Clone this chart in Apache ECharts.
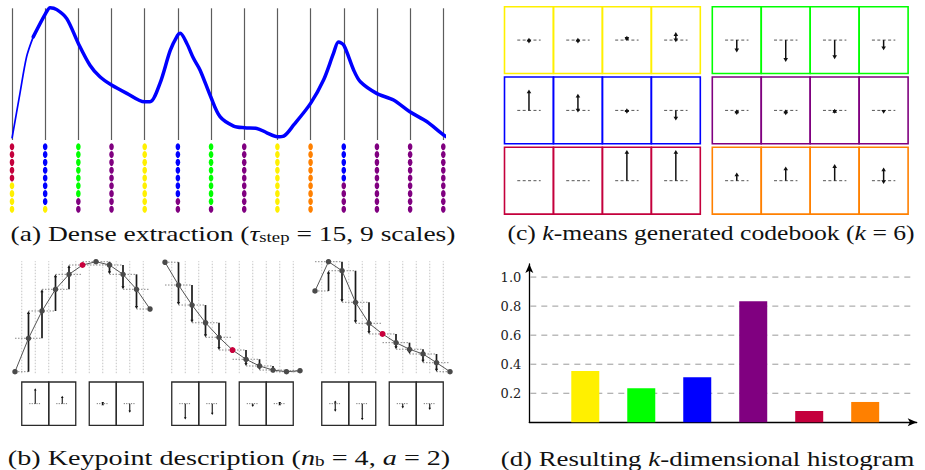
<!DOCTYPE html>
<html><head><meta charset="utf-8">
<script src="https://cdn.jsdelivr.net/npm/echarts@6/dist/echarts.min.js"></script>
<style>html,body{margin:0;padding:0;background:#fff}#c{width:925px;height:470px}</style>
</head><body><div id="c"></div>
<script>
// ================= DATA =================
// clusters (codebook words) in histogram order
const clusterNames  = ['yellow', 'green', 'blue', 'purple', 'crimson', 'orange'];
const clusterCodes  = ['Y', 'G', 'B', 'P', 'R', 'O'];
const clusterColors = ['#fff000', '#00ff00', '#0000ff', '#800080', '#c4003c', '#ff8000'];

// (a) dense extraction: signal curve (x in sample-line units, y normalised)
const curveX = [0, 0.24, 0.44, 0.64, 1.01, 1.15, 1.35, 1.65, 2.0, 2.35, 2.65, 3.0, 3.46, 3.99, 4.16, 4.46, 4.77, 4.99, 5.07, 5.27, 5.47, 5.67, 5.99, 6.27, 6.68, 7.01, 7.38, 7.68, 8.0, 8.19, 8.49, 9.0, 9.39, 9.69, 9.84, 10.0, 10.3, 10.5, 10.99, 11.5, 11.99, 12.51, 13.01, 13.31];
const curveY = [0.013, 0.354, 0.632, 0.783, 0.96, 1.005, 0.99, 0.922, 0.733, 0.568, 0.48, 0.417, 0.354, 0.29, 0.29, 0.43, 0.68, 0.795, 0.81, 0.733, 0.62, 0.53, 0.328, 0.177, 0.106, 0.093, 0.088, 0.055, 0.025, 0.03, 0.114, 0.278, 0.455, 0.657, 0.745, 0.72, 0.53, 0.442, 0.354, 0.303, 0.214, 0.139, 0.038, 0.0];
// cluster assigned at each of 14 sample positions for each of the 9 scales (top to bottom)
const scaleAssignments = ['RRRRRYYYY', 'BBBBBBBBY', 'GGGGGGGPP', 'PPPPPPPPP', 'YYYYYYYYY', 'BBBBBBBPP', 'GGGGGGGGP', 'PPPPPPPPP', 'YYYYYYYYY', 'OOOOOOOOO', 'BBBBBPPPP', 'PPPPPPPPP', 'PPPPPPPPP', 'PPPPPPPPP'];

// (b) keypoint description: three local signal windows (11 samples), keypoint at index 5
const keypointSignals = [
  [0, 0.304, 0.552, 0.749, 0.885, 0.97, 1.0, 0.97, 0.885, 0.749, 0.57],
  [0.995, 0.788, 0.606, 0.445, 0.313, 0.197, 0.113, 0.052, 0.015, 0, 0.009],
  [0.734, 1.0, 0.918, 0.631, 0.44, 0.343, 0.264, 0.204, 0.161, 0.082, 0]
];
const keypointIndex = 5;
// descriptor cells (each covers two samples) : [positive sum, negative sum]
const descriptorCellStart = [0.5, 2.5, 5.5, 7.5];
const keypointDescriptors = [
  [[0.71, 0], [0.36, 0], [0.03, 0.03], [0, 0.42]],
  [[0, 0.73], [0, 0.52], [0, 0.15], [0.03, 0.03]],
  [[0.15, 0.37], [0, 0.77], [0, 0.22], [0, 0.29]]
];

// (c) k-means codebook, k = 6 : 4 cells x [positive, negative]
const codebookWords = [
  [[0.08, 0.11], [0.08, 0.11], [0.14, 0.02], [0.26, 0.07]],  // yellow
  [[0, 0.40], [0, 0.71], [0, 0.62], [0, 0.33]],              // green
  [[0.68, 0], [0.54, 0.07], [0.07, 0.11], [0, 0.33]],        // blue
  [[0.03, 0.15], [0.03, 0.16], [0.05, 0.11], [0, 0.11]],     // purple
  [[0, 0], [0, 0], [1.0, 0], [1.0, 0]],                      // crimson
  [[0.27, 0], [0.46, 0], [0.54, 0], [0.43, 0.11]]            // orange
];

// (d) resulting histogram
const histValues = [0.354, 0.234, 0.31, 0.834, 0.078, 0.14];
const histTicks = [0.2, 0.4, 0.6, 0.8, 1.0];

// ================= HELPERS =================
const INK = '#111';
function arrow(x, yFrom, yTo, color, lw, hw, hl) {
  const dir = yTo < yFrom ? 1 : -1;
  return [
    {type: 'line', shape: {x1: x, y1: yFrom, x2: x, y2: yTo + dir * hl * 0.6}, style: {stroke: color, lineWidth: lw}},
    {type: 'polygon', shape: {points: [[x - hw, yTo + dir * hl], [x + hw, yTo + dir * hl], [x, yTo]]}, style: {fill: color}}
  ];
}
function hAxis(gridIndex, min, max, extra) {
  return Object.assign({type: 'value', gridIndex, min, max, show: false}, extra || {});
}

// ---------- grids ----------
const grids = [];
const xAxes = [], yAxes = [];
const series = [];
function addGrid(g) { grids.push(Object.assign({containLabel: false, outerBoundsMode: 'none'}, g)); return grids.length - 1; }

// (a) curve grid
const gA = addGrid({left: 12, top: 8.3, width: 431.3, height: 131.7});
xAxes.push({type: 'value', gridIndex: gA, min: 0, max: 13, interval: 1,
  axisLine: {show: false}, axisTick: {show: false}, axisLabel: {show: false},
  splitLine: {show: true, lineStyle: {color: '#5c5c5c', width: 1.2}}});
yAxes.push(hAxis(gA, 0, 1));
const curvePts = curveX.map((x, i) => [x, curveY[i]]);
series.push({type: 'line', name: 'signal (rise)', xAxisIndex: gA, yAxisIndex: gA, clip: false,
  data: curvePts.slice(0, 4), symbol: 'none', smooth: 0.3,
  lineStyle: {color: '#0000ff', width: 1.7}, z: 5, silent: true});
series.push({type: 'line', name: 'signal', xAxisIndex: gA, yAxisIndex: gA, clip: false,
  data: curvePts.slice(3), symbol: 'none', smooth: 0.3,
  lineStyle: {color: '#0000ff', width: 3.5, cap: 'round', join: 'round'}, z: 5, silent: true});

// (a) dots grid
const gAd = addGrid({left: 12, top: 146.7, width: 431.3, height: 62.6});
xAxes.push(hAxis(gAd, 0, 13));
yAxes.push(hAxis(gAd, 0, 8, {inverse: true}));
clusterCodes.forEach((code, k) => {
  const pts = [];
  scaleAssignments.forEach((col, ci) => {
    for (let r = 0; r < col.length; r++) if (col[r] === code) pts.push([ci, r]);
  });
  series.push({type: 'scatter', name: clusterNames[k], xAxisIndex: gAd, yAxisIndex: gAd,
    data: pts, symbol: 'circle', symbolSize: [4.6, 7], itemStyle: {color: clusterColors[k], opacity: 1}, silent: true});
});

// (c) codebook grid
const BLOCK_GAP = 0.245, ROW_FILL = 0.95, CB_UNIT = 0.437;
const gC = addGrid({left: 504.5, top: 6.7, width: 403.6, height: 210.9});
xAxes.push(hAxis(gC, 0, 8 + BLOCK_GAP));
yAxes.push(hAxis(gC, 0, 3, {inverse: true}));
const cbData = [];
codebookWords.forEach((w, k) => w.forEach((cell, c) => cbData.push([k, c])));
series.push({type: 'custom', name: 'codebook', xAxisIndex: gC, yAxisIndex: gC, data: cbData, silent: true,
  renderItem: function (params, api) {
    const k = api.value(0), c = api.value(1);
    const block = k % 2, row = Math.floor(k / 2);
    const x0 = block * (4 + BLOCK_GAP) + c;
    const p0 = api.coord([x0, row]), p1 = api.coord([x0 + 1, row + ROW_FILL]);
    const cx = (p0[0] + p1[0]) / 2;
    const rc = row + ROW_FILL / 2;
    const cy = api.coord([x0 + 0.5, rc])[1];
    const [up, dn] = codebookWords[k][c];
    const children = [
      {type: 'rect', shape: {x: p0[0], y: p0[1], width: p1[0] - p0[0], height: p1[1] - p0[1]},
        style: {fill: 'none', stroke: clusterColors[k], lineWidth: 1.6}},
      {type: 'line', shape: {x1: cx - 11.7, y1: cy, x2: cx + 11.7, y2: cy},
        style: {stroke: '#555', lineWidth: 1, lineDash: [3, 2.4]}}
    ];
    if (up > 0) children.push(...arrow(cx, cy, api.coord([x0 + 0.5, rc - up * CB_UNIT])[1], INK, 1.5, 2.3, 3.8));
    if (dn > 0) children.push(...arrow(cx, cy, api.coord([x0 + 0.5, rc + dn * CB_UNIT])[1], INK, 1.5, 2.3, 3.8));
    return {type: 'group', children};
  }});

// (b) keypoint windows + descriptors
keypointSignals.forEach((vals, k) => {
  const left = 15 + 150 * k;
  const gP = addGrid({left, top: 261.7, width: 135, height: 110});
  xAxes.push(hAxis(gP, 0, vals.length - 1));
  yAxes.push(hAxis(gP, 0, 1));
  const n = vals.length;
  series.push({type: 'custom', name: 'window' + (k + 1), xAxisIndex: gP, yAxisIndex: gP, silent: true,
    data: vals.map((v, i) => [i, v]), z: 2,
    renderItem: function (params, api) {
      const i = params.dataIndex;
      const ch = [];
      if (i < n - 1) {
        const a = api.coord([i + 0.5, 0]), b = api.coord([i + 0.5, 1]);
        ch.push({type: 'line', shape: {x1: a[0], y1: a[1] + 1.5, x2: b[0], y2: b[1] - 0.5},
          style: {stroke: '#c4c4c4', lineWidth: 1, lineDash: [1.5, 1.5]}});
      }
      const l = api.coord([Math.max(i - 1, 0), vals[i]]), r = api.coord([Math.min(i + 1, n - 1), vals[i]]);
      ch.push({type: 'line', shape: {x1: l[0], y1: l[1], x2: r[0], y2: r[1]},
        style: {stroke: '#8a8a8a', lineWidth: 1, lineDash: [1.5, 1.5]}});
      return {type: 'group', children: ch};
    }});
  series.push({type: 'custom', name: 'gradients' + (k + 1), xAxisIndex: gP, yAxisIndex: gP, silent: true,
    data: vals.map((v, i) => [i, v]), z: 3,
    renderItem: function (params, api) {
      const i = params.dataIndex;
      if (i === 0 || i === n - 1 || i === keypointIndex) return {type: 'group', children: []};
      const from = api.coord([i, vals[i - 1]]), to = api.coord([i, vals[i + 1]]);
      if (Math.abs(to[1] - from[1]) < 0.8) return {type: 'group', children: []};
      return {type: 'group', children: arrow(from[0], from[1], to[1], '#1a1a1a', 1.7, 1.6, 3)};
    }});
  series.push({type: 'line', name: 'samples' + (k + 1), xAxisIndex: gP, yAxisIndex: gP, silent: true, z: 4,
    data: vals.map((v, i) => i === keypointIndex
      ? {value: [i, v], itemStyle: {color: '#c8003c'}, symbolSize: 6}
      : {value: [i, v]}),
    symbol: 'circle', symbolSize: 5.5, showSymbol: true, clip: false,
    itemStyle: {color: '#4a4a4a'}, lineStyle: {color: '#555', width: 1}});

  const gD = addGrid({left, top: 382, width: 135, height: 43.3});
  xAxes.push(hAxis(gD, 0, n - 1));
  yAxes.push(hAxis(gD, -1, 1));
  series.push({type: 'custom', name: 'descriptor' + (k + 1), xAxisIndex: gD, yAxisIndex: gD, silent: true,
    data: keypointDescriptors[k].map((d, j) => [j, d[0], d[1]]),
    renderItem: function (params, api) {
      const j = params.dataIndex;
      const x0 = descriptorCellStart[j];
      const p0 = api.coord([x0, 1]), p1 = api.coord([x0 + 2, -1]);
      const cx = (p0[0] + p1[0]) / 2, cy = api.coord([x0 + 1, 0])[1];
      const up = api.value(1), dn = api.value(2);
      const ch = [
        {type: 'rect', shape: {x: p0[0], y: p0[1], width: p1[0] - p0[0], height: p1[1] - p0[1]},
          style: {fill: 'none', stroke: '#2a2a2a', lineWidth: 1.3}},
        {type: 'line', shape: {x1: cx - 6, y1: cy, x2: cx + 6, y2: cy},
          style: {stroke: '#777', lineWidth: 1, lineDash: [1.2, 1.2]}}
      ];
      if (up > 0) ch.push(...arrow(cx, cy, api.coord([x0 + 1, up])[1], INK, 1.1, 1.3, 2.2));
      if (dn > 0) ch.push(...arrow(cx, cy, api.coord([x0 + 1, -dn])[1], INK, 1.1, 1.3, 2.2));
      return {type: 'group', children: ch};
    }});
});

// (d) histogram
const gH = addGrid({left: 529.3, top: 264, width: 387.4, height: 158.3});
xAxes.push({type: 'value', gridIndex: gH, min: 0, max: 6.92,
  axisLine: {show: true, onZero: false, lineStyle: {color: '#000', width: 1.3}, symbol: ['none', 'arrow'], symbolSize: [6, 9]},
  axisTick: {show: false}, axisLabel: {show: false}, splitLine: {show: false}});
yAxes.push({type: 'value', gridIndex: gH, min: 0, max: 1.09, interval: 0.2,
  axisLine: {show: true, lineStyle: {color: '#000', width: 1.3}, symbol: ['none', 'arrow'], symbolSize: [6, 9]},
  axisTick: {show: false}, splitLine: {show: false},
  axisLabel: {show: true, margin: 8, color: '#222', fontFamily: 'DejaVu Serif', fontSize: 13,
    formatter: v => (histTicks.some(t => Math.abs(t - v) < 1e-6) ? v.toFixed(1) : '')}});
series.push({type: 'custom', name: 'gridlines', xAxisIndex: gH, yAxisIndex: gH, silent: true, z: 1,
  data: histTicks.map(t => [t]),
  renderItem: function (params, api) {
    const v = api.value(0);
    const a = api.coord([0, v]), b = api.coord([6.85, v]);
    return {type: 'line', shape: {x1: a[0] + 1, y1: a[1], x2: b[0], y2: b[1]},
      style: {stroke: '#9a9a9a', lineWidth: 1, lineDash: [6, 5]}};
  }});
series.push({type: 'bar', name: 'histogram', xAxisIndex: gH, yAxisIndex: gH, barWidth: 28, z: 3, silent: true,
  data: histValues.map((v, i) => ({value: [i + 1, v], itemStyle: {color: clusterColors[i]}}))});

// ---------- captions ----------
const FONT = 'Liberation Serif';
const capRich = {
  it: {fontFamily: FONT, fontSize: 22, fontStyle: 'italic', fill: '#111'},
  sub: {fontFamily: FONT, fontSize: 15, fill: '#111', verticalAlign: 'bottom', lineHeight: 10}
};
function caption(text, x, y, sx) {
  return {type: 'text', x, y, scaleX: sx, silent: true,
    style: {text, fontFamily: FONT, fontSize: 22, fill: '#111', lineHeight: 23,
      textAlign: 'center', align: 'center', textVerticalAlign: 'middle', verticalAlign: 'middle', rich: capRich}};
}
const graphics = [
  caption('(a) Dense extraction ({it|τ}{sub|step} = 15, 9 scales)', 233, 233, 1.25),
  caption('(c) {it|k}-means generated codebook ({it|k} = 6)', 711, 233, 1.165),
  caption('(b) Keypoint description ({it|n}{sub|b} = 4, {it|a} = 2)', 229, 457, 1.28),
  caption('(d) Resulting {it|k}-dimensional histogram', 707.5, 458, 1.22)
];

const chart = echarts.init(document.getElementById('c'), null, {renderer: 'svg', width: 925, height: 470});
chart.setOption({
  animation: false,
  backgroundColor: '#fff',
  grid: grids,
  xAxis: xAxes,
  yAxis: yAxes,
  series: series,
  graphic: graphics
});
</script></body></html>
